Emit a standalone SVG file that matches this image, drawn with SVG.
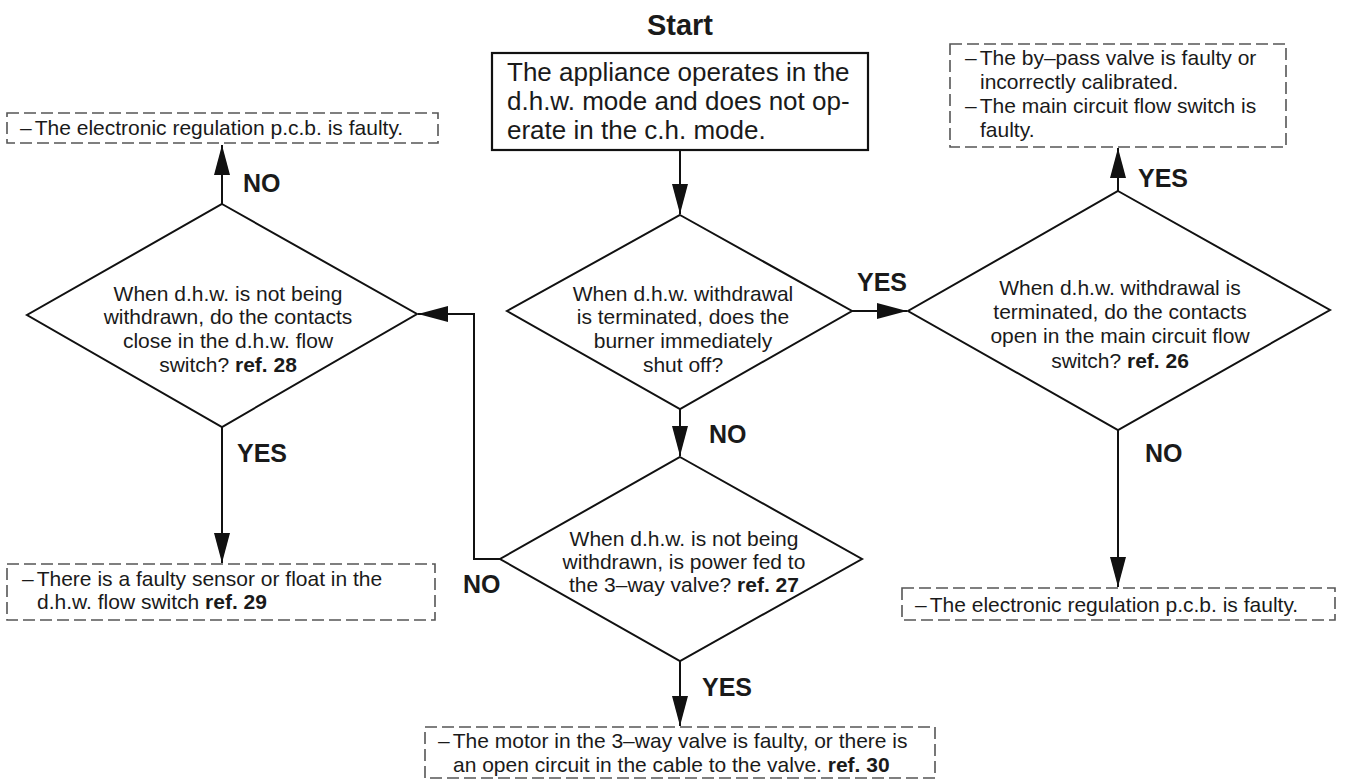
<svg xmlns="http://www.w3.org/2000/svg" width="1346" height="781" viewBox="0 0 1346 781">
<style>
text{font-family:"Liberation Sans",Arial,Helvetica,sans-serif;fill:#1a1a1a}
.t{font-size:21px}
.dt{font-size:21px;text-anchor:middle}
.lbl{font-size:25px;font-weight:bold}
.b{font-weight:bold}
.dia{fill:#fff;stroke:#111;stroke-width:2}
.res{fill:#fff;stroke:#555;stroke-width:1.6;stroke-dasharray:12 5}
.con{fill:none;stroke:#111;stroke-width:2;marker-end:url(#arr)}
</style>
<defs>
<marker id="arr" markerUnits="userSpaceOnUse" markerWidth="30" markerHeight="18" viewBox="0 0 30 18" refX="30" refY="9" orient="auto">
<path d="M0,1 L30,9 L0,17 Z" fill="#111"/>
</marker>
</defs>
<rect width="1346" height="781" fill="#fff"/>

<text x="680" y="35" font-size="29" font-weight="bold" text-anchor="middle">Start</text>

<g id="start">
<rect x="492" y="53" width="376" height="97" fill="#fff" stroke="#111" stroke-width="2.2"/>
<text x="507" y="81" font-size="26">The appliance operates in the</text>
<text x="507" y="110" font-size="26">d.h.w. mode and does not op-</text>
<text x="507" y="139" font-size="26">erate in the c.h. mode.</text>
</g>

<g id="d1">
<polygon class="dia" points="680,215 852,311 680,409 507,311"/>
<text class="dt" x="683" y="301">When d.h.w. withdrawal</text>
<text class="dt" x="683" y="324">is terminated, does the</text>
<text class="dt" x="683" y="348">burner immediately</text>
<text class="dt" x="683" y="372">shut off?</text>
</g>

<g id="d2">
<polygon class="dia" points="222,204 417,314 222,427 27,315"/>
<text class="dt" x="228" y="301">When d.h.w. is not being</text>
<text class="dt" x="228" y="324">withdrawn, do the contacts</text>
<text class="dt" x="228" y="348">close in the d.h.w. flow</text>
<text class="dt" x="228" y="372">switch? <tspan class="b">ref. 28</tspan></text>
</g>

<g id="d3">
<polygon class="dia" points="680,457 862,559 680,661 500,559"/>
<text class="dt" x="684" y="546">When d.h.w. is not being</text>
<text class="dt" x="684" y="569">withdrawn, is power fed to</text>
<text class="dt" x="684" y="592">the 3–way valve? <tspan class="b">ref. 27</tspan></text>
</g>

<g id="d4">
<polygon class="dia" points="1118,191 1330,310 1118,430 908,311"/>
<text class="dt" x="1120" y="295">When d.h.w. withdrawal is</text>
<text class="dt" x="1120" y="319">terminated, do the contacts</text>
<text class="dt" x="1120" y="343">open in the main circuit flow</text>
<text class="dt" x="1120" y="368">switch? <tspan class="b">ref. 26</tspan></text>
</g>

<g id="r_tl">
<rect class="res" x="7" y="113" width="431" height="30"/>
<text class="t" x="20" y="135">–<tspan dx="3">The electronic regulation p.c.b. is faulty.</tspan></text>
</g>

<g id="r_bl">
<rect class="res" x="7" y="564" width="428" height="56"/>
<text class="t" x="22" y="586">–<tspan dx="3">There is a faulty sensor or float in the</tspan></text>
<text class="t" x="37" y="609">d.h.w. flow switch <tspan class="b">ref. 29</tspan></text>
</g>

<g id="r_tr">
<rect class="res" x="950" y="44" width="336" height="103"/>
<text class="t" x="965" y="65">–<tspan dx="3">The by–pass valve is faulty or</tspan></text>
<text class="t" x="980" y="89">incorrectly calibrated.</text>
<text class="t" x="965" y="113">–<tspan dx="3">The main circuit flow switch is</tspan></text>
<text class="t" x="980" y="137">faulty.</text>
</g>

<g id="r_br">
<rect class="res" x="902" y="588" width="433" height="32"/>
<text class="t" x="915" y="612">–<tspan dx="3">The electronic regulation p.c.b. is faulty.</tspan></text>
</g>

<g id="r_bc">
<rect class="res" x="425" y="727" width="510" height="51"/>
<text class="t" x="438" y="748">–<tspan dx="3">The motor in the 3–way valve is faulty, or there is</tspan></text>
<text class="t" x="453" y="772">an open circuit in the cable to the valve. <tspan class="b">ref. 30</tspan></text>
</g>

<g id="connectors">
<path class="con" d="M680,150 L680,214"/>
<path class="con" d="M852,311 L907,311"/>
<path class="con" d="M680,409 L680,456"/>
<path class="con" d="M500,559 L474,559 L474,314 L418,314"/>
<path class="con" d="M222,204 L222,145"/>
<path class="con" d="M222,427 L222,563"/>
<path class="con" d="M1118,191 L1118,148"/>
<path class="con" d="M1118,430 L1118,587"/>
<path class="con" d="M680,661 L680,726"/>
</g>

<g id="labels">
<text class="lbl" x="243" y="192">NO</text>
<text class="lbl" x="237" y="462">YES</text>
<text class="lbl" x="857" y="291">YES</text>
<text class="lbl" x="709" y="443">NO</text>
<text class="lbl" x="463" y="593">NO</text>
<text class="lbl" x="702" y="696">YES</text>
<text class="lbl" x="1138" y="187">YES</text>
<text class="lbl" x="1145" y="462">NO</text>
</g>
</svg>
